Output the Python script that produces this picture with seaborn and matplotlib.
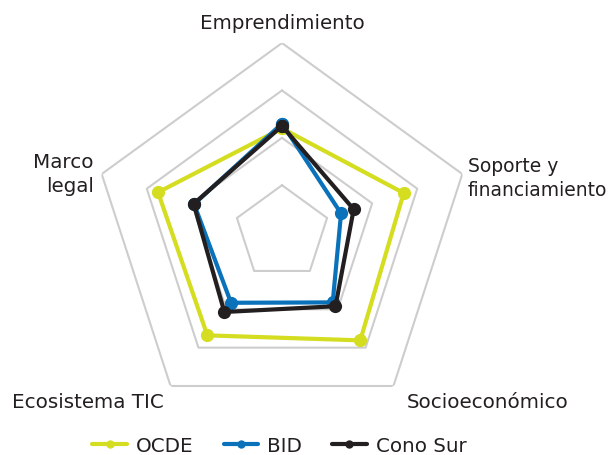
import numpy as np
import pandas as pd
import seaborn as sns
import matplotlib.pyplot as plt

categorias = ['Emprendimiento', 'Soporte y\nfinanciamiento', 'Socioeconómico',
              'Ecosistema TIC', 'Marco\nlegal']
series = ['OCDE', 'BID', 'Cono Sur']
ocde = [2.2, 2.70, 2.81, 2.68, 2.75]
bid = [2.3, 1.31, 1.82, 1.83, 1.95]
cono_sur = [2.25, 1.59, 1.92, 2.07, 1.96]
niveles = [1, 2, 3, 4]

colores = {'OCDE': '#d4dd1f', 'BID': '#0a72ba', 'Cono Sur': '#231f20'}
texto_color = '#231f20'

sns.set_theme(style='white')
plt.rcParams['font.family'] = ['DejaVu Sans']

angulos = np.linspace(0, 2 * np.pi, len(categorias), endpoint=False)

filas = []
for nombre, vals in zip(series, [ocde, bid, cono_sur]):
    for a, v in zip(angulos, vals):
        filas.append({'serie': nombre, 'angulo': a, 'valor': v})
    filas.append({'serie': nombre, 'angulo': angulos[0] + 2 * np.pi, 'valor': vals[0]})
df = pd.DataFrame(filas)

W, H = 610, 456
fig = plt.figure(figsize=(W / 100, H / 100), dpi=100)
ax = fig.add_axes([0.1515, 0.0719, 0.6216, 0.8316], projection='polar')
ax.set_theta_offset(np.pi / 2)
ax.set_theta_direction(-1)

# pentagon grid
cierre = np.append(angulos, angulos[0])
for n in niveles:
    ax.plot(cierre, [n] * len(cierre), color='#cdcdcd', lw=1.5, zorder=1)

sns.lineplot(data=df, x='angulo', y='valor', hue='serie', hue_order=series,
             palette=colores, sort=False, estimator=None, units='serie',
             marker='o', markersize=9.5, markeredgewidth=0, linewidth=3,
             ax=ax, zorder=3, legend=False)

ax.set_ylim(0, 4)
ax.grid(False)
ax.spines['polar'].set_visible(False)
ax.set_xticks([])
ax.set_yticks([])
ax.set_xlabel('')
ax.set_ylabel('')

# category labels: (x px, last baseline px from top, ha, size)
pos = [(282.0, 29.5, 'center', 14.3),
       (467.5, 196.0, 'left', 13.5),
       (488.0, 408.0, 'center', 14.3),
       (87.5, 408.0, 'center', 14.3),
       (93.5, 192.0, 'right', 14.3)]
for texto, (x, y, ha, fs) in zip(categorias, pos):
    ax.annotate(texto, xy=(x, H - y), xycoords='figure pixels', ha=ha,
                va='baseline', fontsize=fs, color=texto_color, linespacing=1.35,
                multialignment=ha)

handles = [plt.Line2D([], [], color=colores[s], lw=3, marker='o', markersize=6,
                      markeredgewidth=0) for s in series]
fig.legend(handles, series, loc='center', bbox_to_anchor=(0.458, 0.02),
           ncol=3, frameon=False, fontsize=14.3, handlelength=1.75,
           columnspacing=1.5, handletextpad=0.45, labelcolor=texto_color)

fig.savefig('out.png', dpi=100)
